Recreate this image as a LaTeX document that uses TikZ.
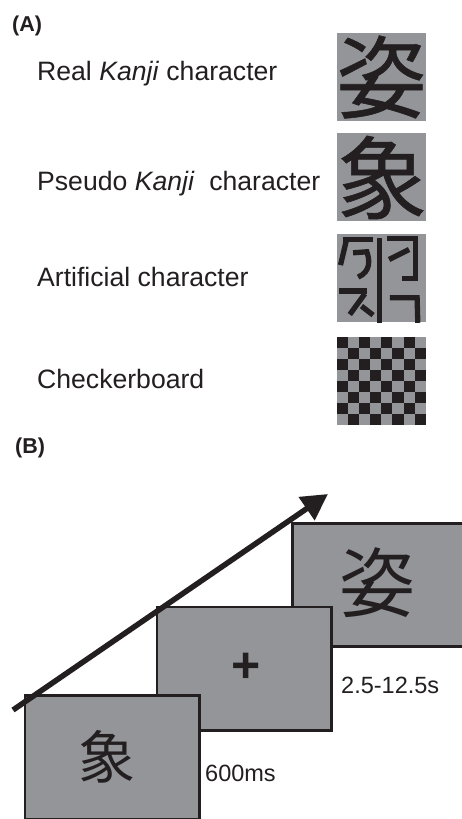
\documentclass[tikz,border=0pt]{standalone}
\usepackage{fontspec}
\setmainfont{Liberation Sans}
\newfontfamily\cjk{Noto Sans CJK JP}
\newfontfamily\cjkb[FakeBold=0.6]{Noto Sans CJK JP}
\usetikzlibrary{arrows.meta,calc}
\definecolor{stimgray}{HTML}{939598}
\definecolor{ink}{HTML}{231F20}
\tikzset{
  lbl/.style={anchor=base west, inner sep=0pt, text=ink, font=\fontsize{26.6}{30}\selectfont},
  panel/.style={anchor=base west, inner sep=0pt, text=ink, font=\bfseries\fontsize{21.5}{24}\selectfont},
  tlbl/.style={anchor=base west, inner sep=0pt, text=ink, font=\fontsize{23.5}{28}\selectfont},
  tile/.style={fill=stimgray, inner sep=0pt, minimum width=89pt, minimum height=88pt},
  bigchar/.style={inner sep=0pt, text=ink, font=\cjkb\fontsize{90}{90}\selectfont},
  stim/.style={fill=stimgray, draw=ink, line width=2.7pt, inner sep=0pt, minimum width=174.5pt, minimum height=123.5pt},
  stroke/.style={draw=ink, line width=5.3pt},
}
\begin{document}
\begin{tikzpicture}[x=1pt,y=-1pt]
\clip (0,0) rectangle (462,819);
\fill[white] (0,0) rectangle (462,819);

% Panel A
\node[panel] (pa) at (12,31) {(A)};
\node[lbl] (l1) at (37,80) {Real \textit{Kanji} character};
\node[lbl] (l2) at (37,190) {Pseudo \textit{Kanji}\ \ character};
\node[lbl] (l3) at (37,286) {Artificial character};
\node[lbl] (l4) at (37,388) {Checkerboard};

\node[tile] (t1) at (381.5,76.5) {};
\node[bigchar] (c1) at (381.5,77) {姿};
\node[tile] (t2) at (381.5,177) {};
\node[bigchar] (c2) at (382,177.5) {象};
\node[tile] (art) at (381.5,278) {};
\begin{scope}[shift={(art.north west)}]
  \draw[stroke] (5.7,5.7) -- (35.7,5.7);
  \draw[stroke] (9.7,6) -- (3.7,31.3);
  \draw[stroke] (16.3,19) -- (30,18) .. controls (33,26) and (34,38) .. (21.3,43.3);
  \draw[stroke] (43,4) -- (43,89);
  \draw[stroke] (50.3,4.7) -- (79,4.7) -- (79,44.7) -- (64.7,44.7);
  \draw[stroke] (52.3,25.7) -- (72.3,15.7);
  \draw[stroke] (2.3,57.3) -- (30.3,57.3);
  \draw[stroke] (28,60) -- (13,80.7);
  \draw[stroke] (24.7,72.3) -- (36.3,81.3);
  \draw[stroke] (53,64) -- (80.3,64) -- (81,89);
\end{scope}
\node[tile] (cb) at (381.5,381) {};
\foreach \i in {0,...,7} {
  \foreach \j in {0,2,4,6} {
    \pgfmathtruncatemacro\cc{\j+mod(\i,2)}
    \fill[ink] ($(cb.north west)+(\cc*11.125,\i*11)$) rectangle ++(11.125,11);
  }
}

% Panel B
\node[panel] (pb) at (15,453) {(B)};
\node[stim] (s3) at (379.5,585) {};
\node[stim] (s2) at (244.25,668.75) {};
\node[stim] (s1) at (112.25,757.25) {};
\node[inner sep=0pt, text=ink, font=\cjk\fontsize{76}{76}\selectfont] (k3) at (377,583) {姿};
\node[inner sep=0pt, text=ink, font=\bfseries\fontsize{50}{50}\selectfont] (fx) at (246,668) {+};
\node[inner sep=0pt, text=ink, font=\cjk\fontsize{57}{57}\selectfont] (k1) at (107,757) {象};
\node[tlbl] (d1) at (205,781) {600ms};
\node[tlbl] (d2) at (341,693) {2.5-12.5s};

\coordinate (a0) at (13,710);
\coordinate (a1) at (328,494);
\draw[ink, line width=5.5pt, -{Triangle[length=26pt,width=27pt]}] (a0) -- (a1);
\end{tikzpicture}
\end{document}
